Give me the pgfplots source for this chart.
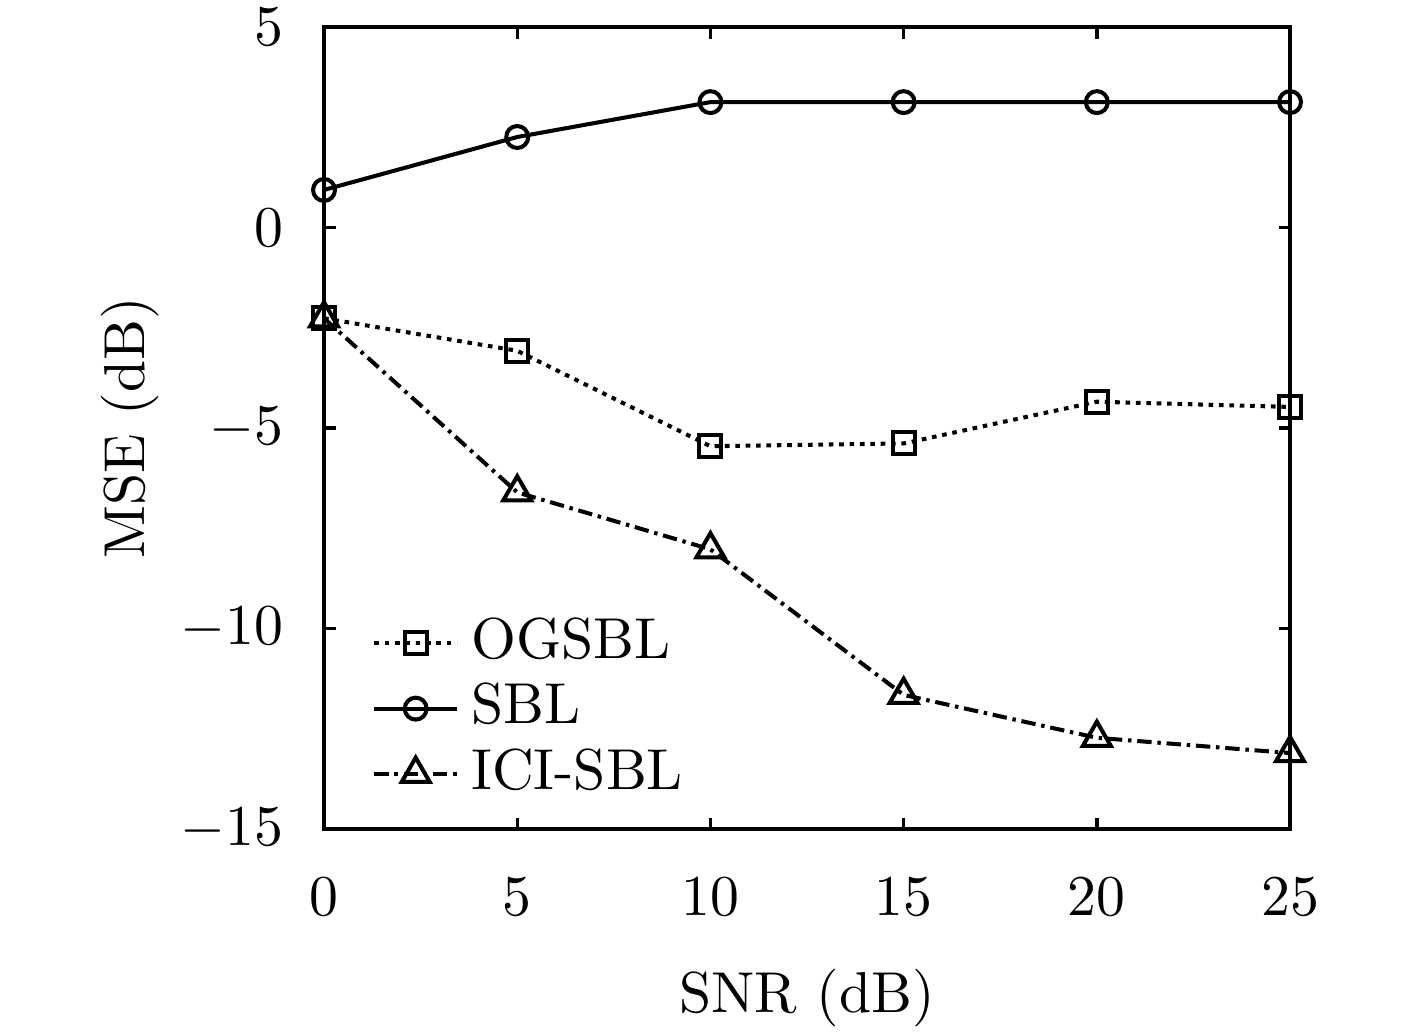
\documentclass[border=0pt]{standalone}
\usepackage{pgfplots}
\pgfplotsset{compat=1.18}
\begin{document}
\begin{tikzpicture}
\begin{axis}[
  scale only axis,
  width=167.4pt, height=139.0pt,
  xmin=0, xmax=25, ymin=-15, ymax=5,
  xtick={0,5,10,15,20,25},
  ytick={-15,-10,-5,0,5},
  tick align=inside,
  major tick length=2pt,
  axis line style={line width=0.7pt},
  every tick/.style={line width=0.6pt, black},
  xticklabel style={yshift=-5pt},
  yticklabel style={xshift=-3.5pt, inner ysep=0pt},
  xlabel={SNR (dB)},
  ylabel={MSE (dB)},
  xlabel style={at={(axis description cs:0.5,-0.228)}, anchor=base, inner ysep=0pt},
  ylabel style={at={(axis description cs:-0.201,0.5)}, anchor=center, rotate=0, inner sep=0pt},
  legend cell align=left,
  legend style={draw=none, fill=none, at={(axis description cs:0.0486,0.027)}, anchor=south west, inner sep=0pt,
    nodes={inner ysep=1.5pt, inner xsep=2.1pt, text height=6.8pt, text depth=1.5pt}, row sep=0pt},
  legend image code/.code={\draw[mark repeat=2,mark phase=2] plot coordinates {(0pt,0pt) (7.2pt,0pt) (14.4pt,0pt)};},
]
\addplot[black, line width=0.7pt, dash pattern=on 0.8pt off 1pt, mark=square, mark size=1.9pt, mark options={solid, line width=0.7pt}]
  coordinates {(0,-2.26) (5,-3.07) (10,-5.45) (15,-5.38) (20,-4.34) (25,-4.47)};
\addlegendentry{OGSBL}
\addplot[black, line width=0.7pt, mark=o, mark size=1.9pt, mark options={solid, line width=0.7pt}]
  coordinates {(0,0.94) (5,2.26) (10,3.13) (15,3.13) (20,3.13) (25,3.13)};
\addlegendentry{SBL}
\addplot[black, line width=0.7pt, dash pattern=on 2.5pt off 1pt on 0.6pt off 1pt, mark=triangle, mark size=2.8pt, mark options={solid, line width=0.7pt}]
  coordinates {(0,-2.26) (5,-6.6) (10,-8.02) (15,-11.65) (20,-12.72) (25,-13.1)};
\addlegendentry{ICI-SBL}
\end{axis}
\path ([shift={(-56.15pt,-35.2pt)}]current axis.south west) rectangle ([shift={(22pt,4.7pt)}]current axis.north east);
\end{tikzpicture}
\end{document}
